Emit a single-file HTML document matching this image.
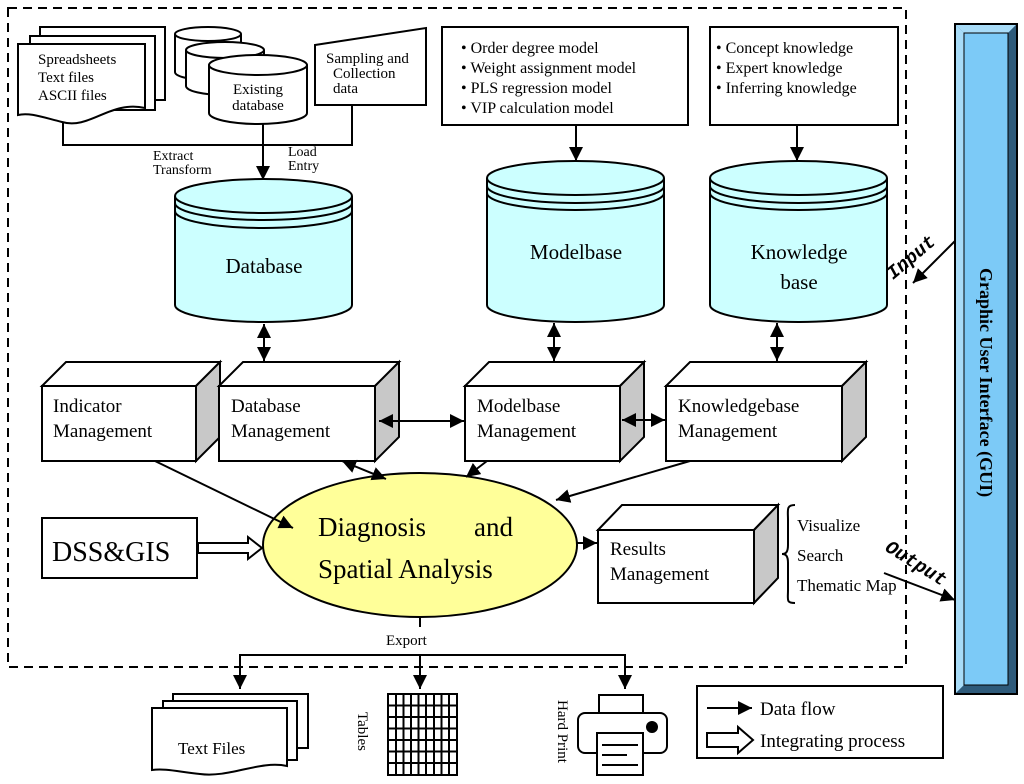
<!DOCTYPE html>
<html><head><meta charset="utf-8"><style>
body{margin:0;background:#fff}
svg{display:block}
text{font-family:"Liberation Serif",serif;fill:#000}
</style></head><body>
<svg width="1024" height="784" viewBox="0 0 1024 784" xmlns="http://www.w3.org/2000/svg">
<defs>
<marker id="b" viewBox="0 0 10 10" refX="10" refY="5" markerWidth="14" markerHeight="14" orient="auto-start-reverse" markerUnits="userSpaceOnUse"><path d="M0,0 L10,5 L0,10z" fill="#000"/></marker>
</defs>
<rect x="8" y="8" width="898" height="659" fill="none" stroke="#000" stroke-width="2" stroke-dasharray="9,6"/>
<!-- top-left docs -->
<g stroke="#000" stroke-width="2" fill="#fff">
<path d="M40,27 H165 V100 H40z"/>
<path d="M30,36 H155 V110 H30z"/>
<path d="M18,44 H145 V108 C110,100 90,130 62,122 C45,118 30,112 18,115z"/>
</g>
<text x="38" y="64" font-size="15">Spreadsheets</text>
<text x="38" y="82" font-size="15">Text files</text>
<text x="38" y="100" font-size="15">ASCII files</text>
<g stroke="#000" stroke-width="2" fill="#fff">
<path d="M175,34 V72 A33,8 0 0 0 241,72 V34"/><ellipse cx="208" cy="34" rx="33" ry="7"/>
<path d="M186,50 V86 A39,9 0 0 0 264,86 V50"/><ellipse cx="225" cy="50" rx="39" ry="8"/>
<path d="M209,65 V113 A49,11 0 0 0 307,113 V65"/><ellipse cx="258" cy="65" rx="49" ry="10"/>
</g>
<text x="258" y="94" font-size="15" text-anchor="middle">Existing</text>
<text x="258" y="110" font-size="15" text-anchor="middle">database</text>
<polygon points="315,45 426,28 426,105 315,105" fill="#fff" stroke="#000" stroke-width="2"/>
<text x="326" y="63" font-size="15">Sampling and</text>
<text x="333" y="78" font-size="15">Collection</text>
<text x="333" y="93" font-size="15">data</text>
<g fill="none" stroke="#000" stroke-width="2">
<polyline points="63,122 63,145 352,145 352,105"/>
<line x1="263" y1="124" x2="263" y2="180" marker-end="url(#b)"/>
</g>
<text x="153" y="160" font-size="14">Extract</text>
<text x="153" y="174" font-size="14">Transform</text>
<text x="288" y="156" font-size="14">Load</text>
<text x="288" y="170" font-size="14">Entry</text>
<rect x="442" y="27" width="246" height="98" fill="#fff" stroke="#000" stroke-width="2"/>
<g font-size="16">
<text x="461" y="53">•  Order degree model</text>
<text x="461" y="73">•  Weight assignment model</text>
<text x="461" y="93">•  PLS regression model</text>
<text x="461" y="113">•  VIP calculation model</text>
</g>
<rect x="710" y="27" width="188" height="98" fill="#fff" stroke="#000" stroke-width="2"/>
<g font-size="16">
<text x="716" y="53">•  Concept knowledge</text>
<text x="716" y="73">•  Expert knowledge</text>
<text x="716" y="93">•  Inferring knowledge</text>
</g>
<g fill="none" stroke="#000" stroke-width="2">
<line x1="576" y1="125" x2="576" y2="161" marker-end="url(#b)"/>
<line x1="797" y1="125" x2="797" y2="161" marker-end="url(#b)"/>
</g>
<g stroke="#000" stroke-width="2" fill="#ccffff">
<path d="M175,196 V305 A88.5,17 0 0 0 352,305 V196"/><ellipse cx="263.5" cy="196" rx="88.5" ry="17"/>
<path d="M175,203 A88.5,17 0 0 0 352,203 M175,211 A88.5,17 0 0 0 352,211" fill="none"/>
<path d="M487,178 V305 A88.5,17 0 0 0 664,305 V178"/><ellipse cx="575.5" cy="178" rx="88.5" ry="17"/>
<path d="M487,186 A88.5,17 0 0 0 664,186 M487,193 A88.5,17 0 0 0 664,193" fill="none"/>
<path d="M710,178 V305 A88.5,17 0 0 0 887,305 V178"/><ellipse cx="798.5" cy="178" rx="88.5" ry="17"/>
<path d="M710,186 A88.5,17 0 0 0 887,186 M710,193 A88.5,17 0 0 0 887,193" fill="none"/>
</g>
<text x="264" y="273" font-size="21" text-anchor="middle">Database</text>
<text x="576" y="259" font-size="21" text-anchor="middle">Modelbase</text>
<text x="799" y="259" font-size="21" text-anchor="middle">Knowledge</text>
<text x="799" y="289" font-size="21" text-anchor="middle">base</text>
<g fill="none" stroke="#000" stroke-width="2">
<line x1="264" y1="324" x2="264" y2="361" marker-start="url(#b)" marker-end="url(#b)"/>
<line x1="554" y1="323" x2="554" y2="361" marker-start="url(#b)" marker-end="url(#b)"/>
<line x1="777" y1="323" x2="777" y2="361" marker-start="url(#b)" marker-end="url(#b)"/>
</g>
<g stroke="#000" stroke-width="2">
<path d="M42,386 L66,362 H220 L196,386z" fill="#fff"/><path d="M196,386 L220,362 V437 L196,461z" fill="#c8c8c8"/><rect x="42" y="386" width="154" height="75" fill="#fff"/>
<path d="M219,386 L243,362 H399 L375,386z" fill="#fff"/><path d="M375,386 L399,362 V437 L375,461z" fill="#c8c8c8"/><rect x="219" y="386" width="156" height="75" fill="#fff"/>
<path d="M465,386 L489,362 H644 L620,386z" fill="#fff"/><path d="M620,386 L644,362 V437 L620,461z" fill="#c8c8c8"/><rect x="465" y="386" width="155" height="75" fill="#fff"/>
<path d="M666,386 L690,362 H866 L842,386z" fill="#fff"/><path d="M842,386 L866,362 V437 L842,461z" fill="#c8c8c8"/><rect x="666" y="386" width="176" height="75" fill="#fff"/>
<path d="M598,530 L622,505 H778 L754,530z" fill="#fff"/><path d="M754,530 L778,505 V578 L754,603z" fill="#c8c8c8"/><rect x="598" y="530" width="156" height="73" fill="#fff"/>
</g>
<g font-size="19">
<text x="53" y="412">Indicator</text><text x="53" y="437">Management</text>
<text x="231" y="412">Database</text><text x="231" y="437">Management</text>
<text x="477" y="412">Modelbase</text><text x="477" y="437">Management</text>
<text x="678" y="412">Knowledgebase</text><text x="678" y="437">Management</text>
<text x="610" y="555">Results</text><text x="610" y="580">Management</text>
</g>
<g fill="none" stroke="#000" stroke-width="2">
<line x1="379" y1="421" x2="464" y2="421" marker-start="url(#b)" marker-end="url(#b)"/>
<line x1="622" y1="420" x2="665" y2="420" marker-start="url(#b)" marker-end="url(#b)"/>
</g>
<ellipse cx="420" cy="545" rx="157" ry="72" fill="#ffff99" stroke="#000" stroke-width="2"/>
<text x="318" y="536" font-size="27">Diagnosis</text>
<text x="474" y="536" font-size="27">and</text>
<text x="318" y="578" font-size="27">Spatial Analysis</text>
<g fill="none" stroke="#000" stroke-width="2">
<line x1="155" y1="461" x2="293" y2="528" marker-end="url(#b)"/>
<line x1="342" y1="461" x2="386" y2="479" marker-start="url(#b)" marker-end="url(#b)"/>
<line x1="487" y1="461" x2="466" y2="477" marker-end="url(#b)"/>
<line x1="690" y1="461" x2="556" y2="500" marker-end="url(#b)"/>
<line x1="577" y1="543" x2="597" y2="543" marker-end="url(#b)"/>
</g>
<rect x="42" y="518" width="155" height="60" fill="#fff" stroke="#000" stroke-width="2"/>
<text x="52" y="561" font-size="28">DSS&amp;GIS</text>
<path d="M198,543 H248 V537 L262,548 L248,559 V553 H198z" fill="#fff" stroke="#000" stroke-width="2"/>
<path d="M795,505 C786,505 788,510 788,520 V545 C788,552 786,554 782,554 C786,554 788,556 788,563 V590 C788,600 786,603 795,603" fill="none" stroke="#000" stroke-width="2"/>
<g font-size="17">
<text x="797" y="531">Visualize</text>
<text x="797" y="561">Search</text>
<text x="797" y="591">Thematic Map</text>
</g>
<g fill="none" stroke="#000" stroke-width="2">
<line x1="420" y1="617" x2="420" y2="627"/>
<polyline points="240,689 240,655 625,655 625,689" marker-start="url(#b)" marker-end="url(#b)"/>
<line x1="420" y1="655" x2="420" y2="689" marker-end="url(#b)"/>
</g>
<text x="386" y="645" font-size="15">Export</text>
<g stroke="#000" stroke-width="2" fill="#fff">
<path d="M173,694 H308 V748 H173z"/>
<path d="M163,701 H297 V760 H163z"/>
<path d="M152,708 H287 V766 C260,760 230,778 200,774 C180,772 165,768 152,770z"/>
</g>
<text x="178" y="754" font-size="17">Text Files</text>
<g stroke="#000" stroke-width="2" fill="none">
<rect x="388" y="694" width="69" height="81"/>
<path d="M396,694V775M403.5,694V775M411,694V775M418.5,694V775M426,694V775M434,694V775M441.5,694V775M449,694V775M388,705.5H457M388,717H457M388,728.5H457M388,740H457M388,751.5H457M388,763H457"/>
</g>
<text transform="translate(358,712) rotate(90)" font-size="15">Tables</text>
<text transform="translate(558,700) rotate(90)" font-size="15">Hard Print</text>
<g stroke="#000" stroke-width="2" fill="#fff">
<rect x="599" y="695" width="44" height="20"/>
<rect x="578" y="713" width="89" height="40" rx="7"/>
<rect x="597" y="733" width="46" height="42"/>
</g>
<circle cx="652" cy="727" r="6" fill="#000"/>
<g stroke="#000" stroke-width="2"><line x1="602" y1="745" x2="638" y2="745"/><line x1="602" y1="755" x2="627" y2="755"/><line x1="602" y1="765" x2="638" y2="765"/></g>
<rect x="697" y="686" width="246" height="72" fill="#fff" stroke="#000" stroke-width="2"/>
<line x1="707" y1="708" x2="752" y2="708" stroke="#000" stroke-width="2" marker-end="url(#b)"/>
<text x="760" y="715" font-size="19">Data flow</text>
<path d="M707,733 H738 V727 L753,740 L738,753 V747 H707z" fill="#fff" stroke="#000" stroke-width="2"/>
<text x="760" y="747" font-size="19">Integrating process</text>
<rect x="955" y="24" width="62" height="670" fill="#3a6b8f" stroke="#000" stroke-width="2"/>
<polygon points="956,25 1016,25 1008,33 964,33" fill="#a8dcf8"/>
<polygon points="956,25 964,33 964,685 956,693" fill="#a8dcf8"/>
<polygon points="1016,25 1016,693 1008,685 1008,33" fill="#2e5a7a"/>
<polygon points="956,693 964,685 1008,685 1016,693" fill="#2e5a7a"/>
<rect x="964" y="33" width="44" height="652" fill="#7ccaf7" stroke="#000" stroke-width="1"/>
<text transform="translate(980,268) rotate(90)" font-size="18" font-weight="bold">Graphic User Interface (GUI)</text>
<line x1="955" y1="241" x2="913" y2="283" stroke="#000" stroke-width="2" marker-end="url(#b)"/>
<text transform="translate(893,280) rotate(-40)" font-size="19" font-weight="bold" font-style="italic" style="font-family:'Liberation Mono',monospace">Input</text>
<line x1="884" y1="573" x2="955" y2="600" stroke="#000" stroke-width="2" marker-end="url(#b)"/>
<text transform="translate(884,550) rotate(32)" font-size="19" font-weight="bold" font-style="italic" style="font-family:'Liberation Mono',monospace">Output</text>
</svg>
</body></html>
